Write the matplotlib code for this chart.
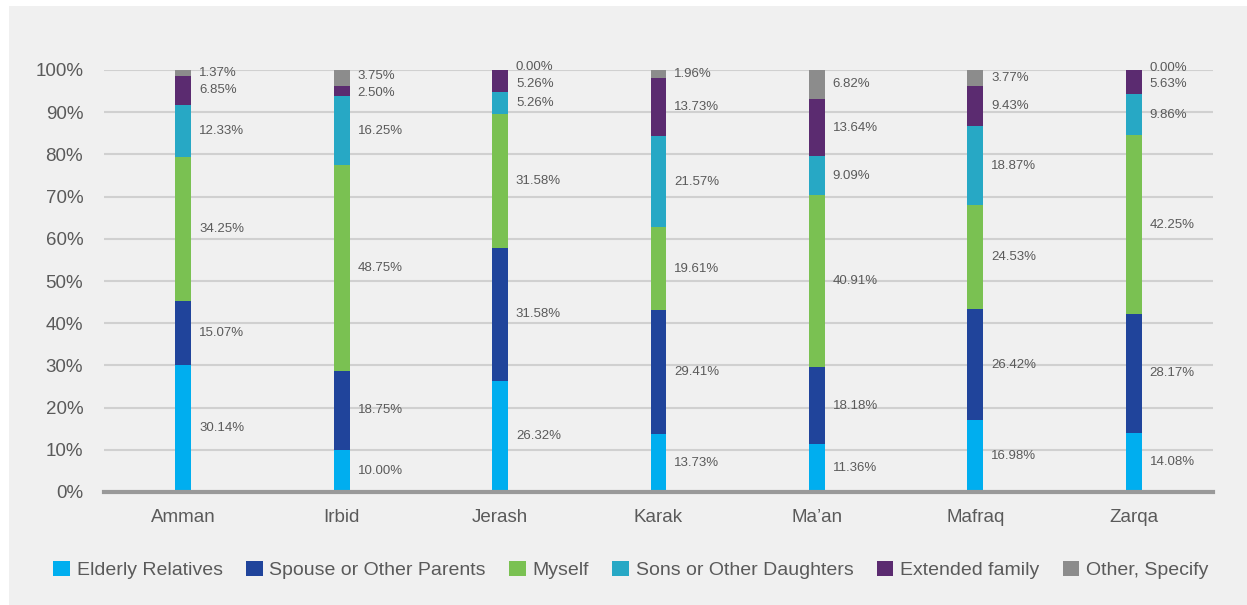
import numpy as np
import matplotlib.pyplot as plt
from matplotlib.patches import Rectangle

plt.rcParams['font.family'] = ['Liberation Sans', 'DejaVu Sans']

# Share of respondents by governorate (%)
governorates = ["Amman", "Irbid", "Jerash", "Karak", "Ma\u2019an", "Mafraq", "Zarqa"]
series_names = ["Elderly Relatives", "Spouse or Other Parents", "Myself",
                "Sons or Other Daughters", "Extended family", "Other, Specify"]
elderly = [30.14, 10.00, 26.32, 13.73, 11.36, 16.98, 14.08]
spouse = [15.07, 18.75, 31.58, 29.41, 18.18, 26.42, 28.17]
myself = [34.25, 48.75, 31.58, 19.61, 40.91, 24.53, 42.25]
sons = [12.33, 16.25, 5.26, 21.57, 9.09, 18.87, 9.86]
extended = [6.85, 2.50, 5.26, 13.73, 13.64, 9.43, 5.63]
other = [1.37, 3.75, 0.00, 1.96, 6.82, 3.77, 0.00]
colors = ["#00aeef", "#20449b", "#7ac152", "#27a8c5", "#5b2b70", "#8c8c8c"]

values = np.array([elderly, spouse, myself, sons, extended, other])
text_col = "#5a5a5a"

fig = plt.figure(figsize=(12.47, 6.05), dpi=100)
fig.patch.set_facecolor("white")
fig.add_artist(Rectangle((9 / 1247, 0), 1, 1 - 6 / 605, transform=fig.transFigure,
                         facecolor="#f0f0f0", edgecolor="none", zorder=0))

ax = fig.add_axes([104 / 1247, 1 - 492 / 605, (1213 - 104) / 1247, (492 - 70) / 605])
ax.set_facecolor("none")
x = np.arange(len(governorates))
bottom = np.zeros(len(governorates))
handles = []
for vals, name, col in zip(values, series_names, colors):
    h = ax.bar(x, vals, 0.1, bottom=bottom, color=col, label=name, zorder=3)
    handles.append(h)
    bottom += vals

# value labels to the right of each bar, spread so they do not collide
min_gap = 4.0
for i in range(len(governorates)):
    col_vals = values[:, i]
    tops = np.cumsum(col_vals)
    pos = tops - col_vals / 2
    for _ in range(200):
        moved = False
        for k in range(len(pos) - 1):
            d = pos[k + 1] - pos[k]
            if d < min_gap - 1e-9:
                shift = (min_gap - d) / 2
                pos[k] -= shift
                pos[k + 1] += shift
                moved = True
        if not moved:
            break
    for v, p in zip(col_vals, pos):
        ax.text(i + 0.1, p, f"{v:.2f}%", fontsize=9.5, color=text_col,
                va="center", ha="left", zorder=4)

ax.set_xlim(-0.5, len(governorates) - 0.5)
ax.set_ylim(0, 100)
ax.set_yticks(np.arange(0, 101, 10))
ax.set_yticklabels([f"{t}%" for t in range(0, 101, 10)])
ax.set_xticks(x)
ax.set_xticklabels(governorates)
ax.tick_params(axis="y", length=0, pad=15, labelsize=13.5, labelcolor=text_col)
ax.tick_params(axis="x", length=0, pad=12, labelsize=13.5, labelcolor=text_col)
ax.yaxis.grid(True, color="#d0d0d0", linewidth=1.5, zorder=1)
ax.set_axisbelow(True)
for s in ["top", "right", "left"]:
    ax.spines[s].set_visible(False)
ax.spines["bottom"].set_color("#999999")
ax.spines["bottom"].set_linewidth(3)
ax.spines["bottom"].set_zorder(5)

fig.legend(handles=handles, loc="center", bbox_to_anchor=(631 / 1247, 1 - 570 / 605),
           ncol=6, frameon=False, fontsize=14, labelcolor=text_col,
           handlelength=0.85, handleheight=0.85, handletextpad=0.35, columnspacing=1.2)

fig.savefig("out.png", dpi=100)
